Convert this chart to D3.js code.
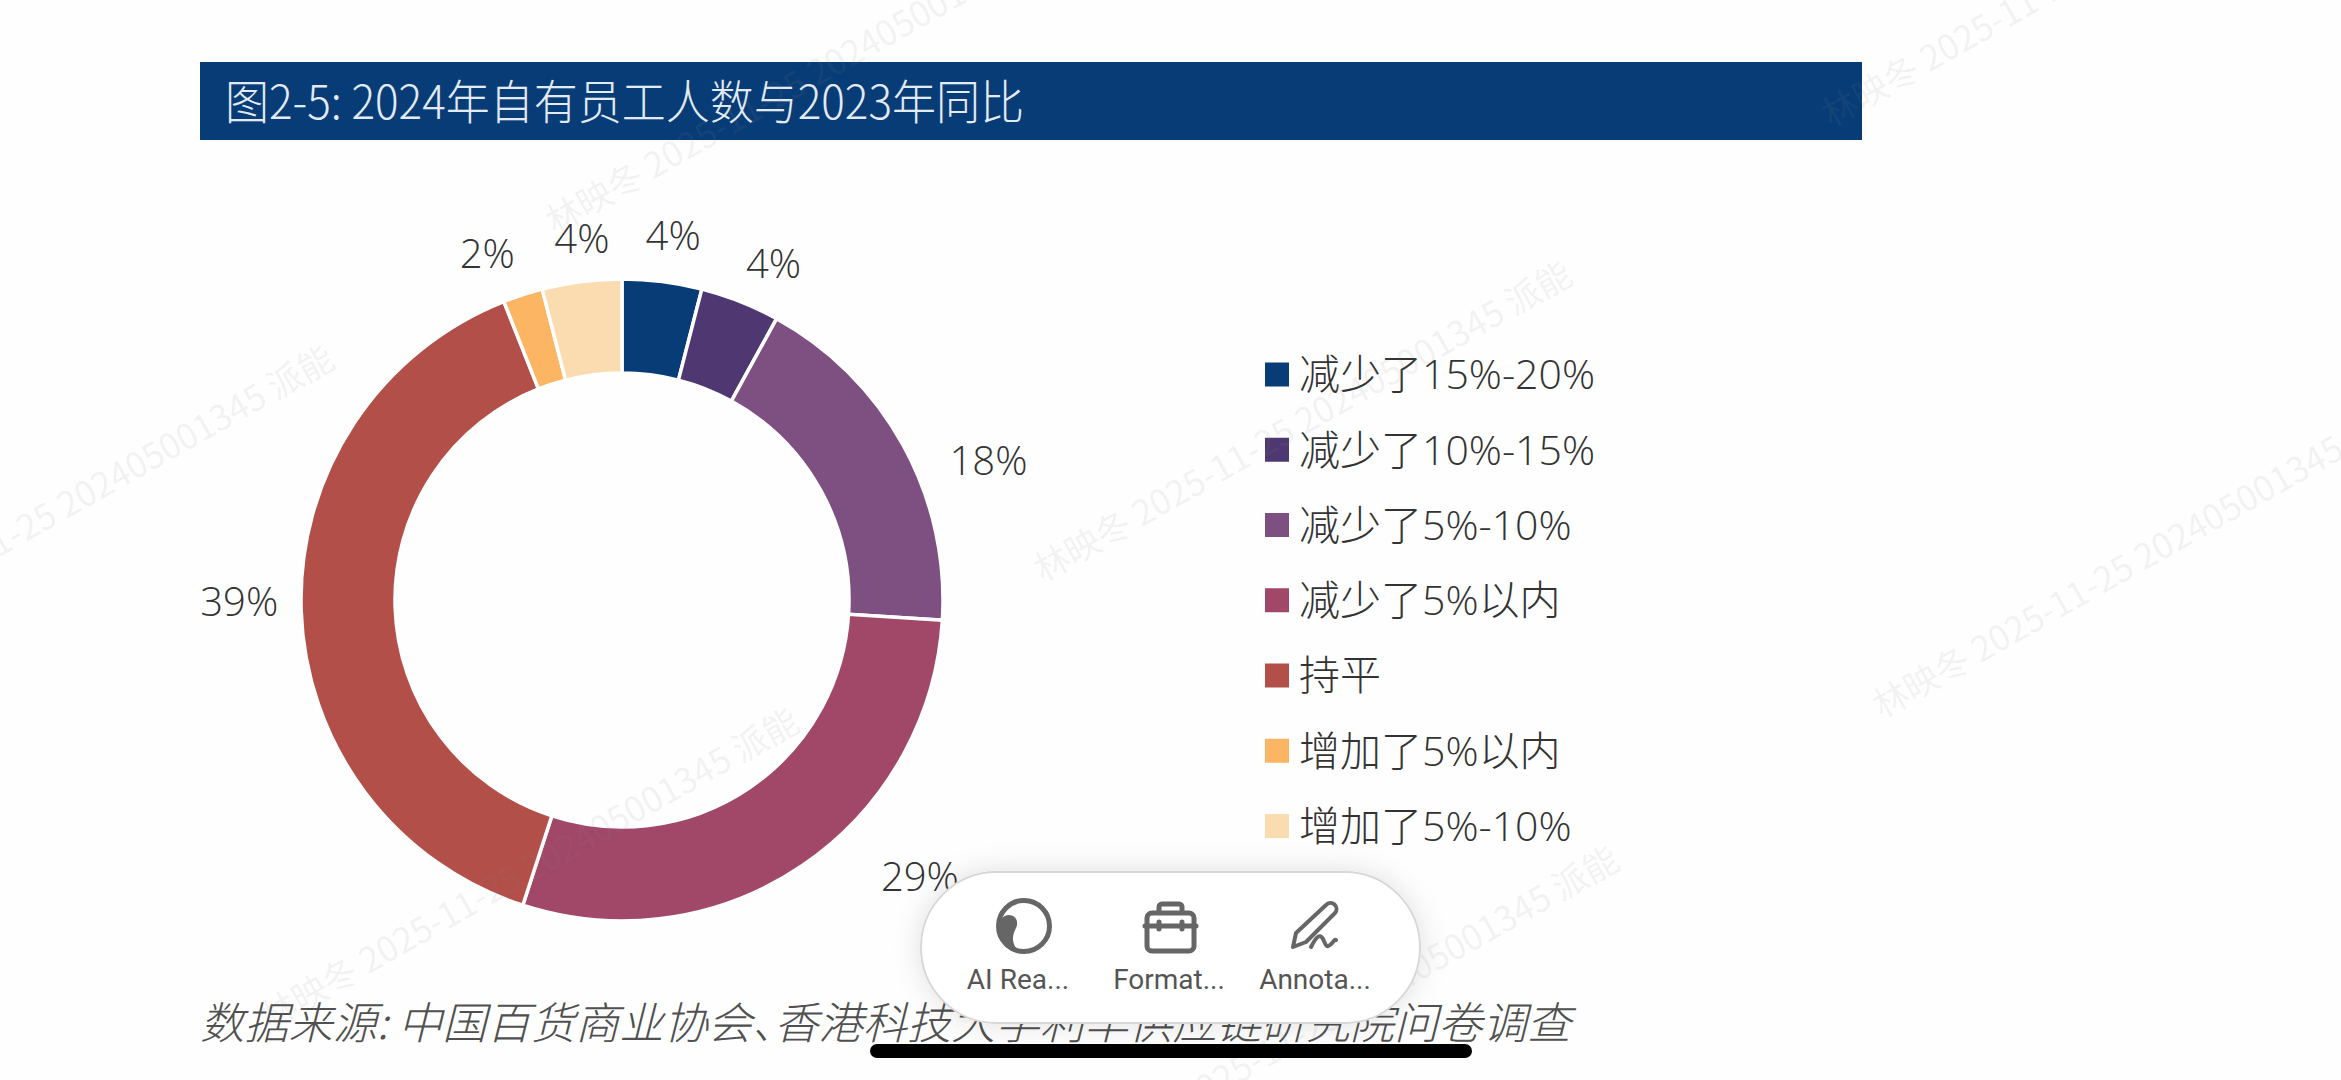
<!DOCTYPE html>
<html lang="zh">
<head>
<meta charset="utf-8">
<script src="https://cdn.jsdelivr.net/npm/d3@7/dist/d3.min.js"></script>
<style>
html,body{margin:0;padding:0;background:#fefefe;}
svg{display:block;}
text{font-family:"Noto Sans CJK SC","Noto Sans",sans-serif;}
.latin{font-family:"Open Sans","Noto Sans CJK SC",sans-serif;}
</style>
</head>
<body>
<script>
const categories = ["减少了15%-20%","减少了10%-15%","减少了5%-10%","减少了5%以内","持平","增加了5%以内","增加了5%-10%"];
const shares = [4,4,18,29,39,2,4];
const sliceColors = ["#083c76","#4f3871","#7e5082","#a14767","#b34f49","#fbb563","#fbdcb0"];
const heading = "图2-5: 2024年自有员工人数与2023年同比";
const sourceNote = "数据来源: 中国百货商业协会、香港科技大学利丰供应链研究院问卷调查";
const stamp = "林映冬 2025-11-25 202405001345 派能";
const toolLabels = ["AI Rea...","Format...","Annota..."];

const W = 2341, H = 1080;
const svg = d3.select("body").append("svg").attr("width",W).attr("height",H);
svg.append("rect").attr("width",W).attr("height",H).attr("fill","#fefefe");

// Heading band
svg.append("rect").attr("x",200).attr("y",62).attr("width",1662).attr("height",78).attr("fill","#083c76");
svg.append("text").attr("x",225).attr("y",119).attr("font-size",47).attr("font-weight",300)
  .attr("fill","#e2eaf3").attr("textLength",799).attr("lengthAdjust","spacingAndGlyphs").text(heading);

// Donut: starts at twelve o'clock and runs clockwise in category order
const cx = 622, cy = 600, outerR = 321, innerR = 227, labelR = 368;
const pie = d3.pie().value(d=>d).sort(null);
const arc = d3.arc().innerRadius(innerR).outerRadius(outerR);
const labelArc = d3.arc().innerRadius(labelR).outerRadius(labelR);
const labelNudge = [[5,1],[16,6],[44,38],[91,-28],[-15,-10],[-21,4],[6,4]];
const donut = svg.append("g").attr("transform",`translate(${cx},${cy})`);
const color = d3.scaleOrdinal().domain(categories).range(sliceColors);
const slices = pie(shares);
donut.selectAll("path").data(slices).join("path")
  .attr("d",arc).attr("fill",(d,i)=>color(categories[i]))
  .attr("stroke","#fff").attr("stroke-width",3.5);
donut.selectAll("text").data(slices).join("text")
  .attr("class","latin")
  .attr("transform",(d,i)=>{
    const [x,y] = labelArc.centroid(d);
    return `translate(${x+labelNudge[i][0]},${y+labelNudge[i][1]})`;
  })
  .attr("text-anchor","middle").attr("dy","0.36em")
  .attr("font-size",40).attr("font-weight",300).attr("fill","#333")
  .text(d=>d.data+"%");

// Legend
const legendY = d3.scalePoint().domain(categories).range([374.5,826]);
const legend = svg.append("g").selectAll("g").data(categories).join("g")
  .attr("transform",d=>`translate(1265,${legendY(d)})`);
legend.append("rect").attr("y",-12).attr("width",24).attr("height",24).attr("fill",d=>color(d));
legend.append("text").attr("class","latin").attr("x",34).attr("dy","0.36em").attr("font-size",41).attr("font-weight",300)
  .attr("fill","#333").text(d=>d);

// Source line
svg.append("text").attr("x",200).attr("y",1039).attr("font-size",44).attr("font-weight",300)
  .attr("font-style","italic").attr("fill","#505050").attr("textLength",1371)
  .attr("lengthAdjust","spacingAndGlyphs").style("font-feature-settings",'"palt"').text(sourceNote);

// Diagonal stamp laid over the page content
const stampLayer = svg.append("g").attr("fill","#888").attr("fill-opacity",0.1).attr("font-size",35);
[[555,235],[1043,583],[1831,128],[1882,719],[270,1030],[1090,1168],[-195,667]]
  .forEach(([x,y])=>{
    stampLayer.append("text").attr("transform",`translate(${x},${y}) rotate(-29.5)`).text(stamp);
  });

// Floating reader toolbar
const defs = svg.append("defs");
const shadow = defs.append("filter").attr("id","soft").attr("x","-20%").attr("y","-30%").attr("width","140%").attr("height","160%");
shadow.append("feDropShadow").attr("dx",0).attr("dy",0).attr("stdDeviation",14).attr("flood-color","#000").attr("flood-opacity",0.12);
svg.append("rect").attr("x",921).attr("y",872).attr("width",499).attr("height",151).attr("rx",75.5)
  .attr("fill","#fff").attr("stroke","#d8d8d8").attr("stroke-width",2).attr("filter","url(#soft)");

const toolX = d3.scaleOrdinal().domain(toolLabels).range([1018,1169,1315]);
svg.append("g").selectAll("text").data(toolLabels).join("text")
  .attr("x",d=>toolX(d)).attr("y",989).attr("text-anchor","middle")
  .style("font-family","Roboto").attr("font-size",28).attr("fill","#555").text(d=>d);

const icons = svg.append("g").attr("fill","none").attr("stroke","#666").attr("stroke-width",5).attr("stroke-linecap","round").attr("stroke-linejoin","round");
// reading orb
icons.append("circle").attr("cx",1024).attr("cy",926).attr("r",25.5);
icons.append("path").attr("d","M1009 915C1016 915 1019 922 1016 928C1013 934 1011 940 1016 948C1005 945 998 937 998 927C998 921 1003 915 1009 915Z").attr("fill","#666").attr("stroke","none");
// toolbox
icons.append("rect").attr("x",1147).attr("y",913).attr("width",47).attr("height",38).attr("rx",5);
icons.append("path").attr("d","M1145 926h51M1159 912v-5a3 3 0 0 1 3-3h17a3 3 0 0 1 3 3v5M1159 922v7M1182 922v7");
// pen with squiggle
icons.append("path").attr("d","M1293 947l3-14 30-28a5 5 0 0 1 9 8L1306 942Z").attr("stroke-width",4);
icons.append("path").attr("d","M1311 947c5-10 9-14 12-8s3 9 7 6 4-6 6-5").attr("stroke-width",4);

// Gesture bar
svg.append("rect").attr("x",870).attr("y",1044).attr("width",602).attr("height",14).attr("rx",7).attr("fill","#000");
</script>
</body>
</html>
